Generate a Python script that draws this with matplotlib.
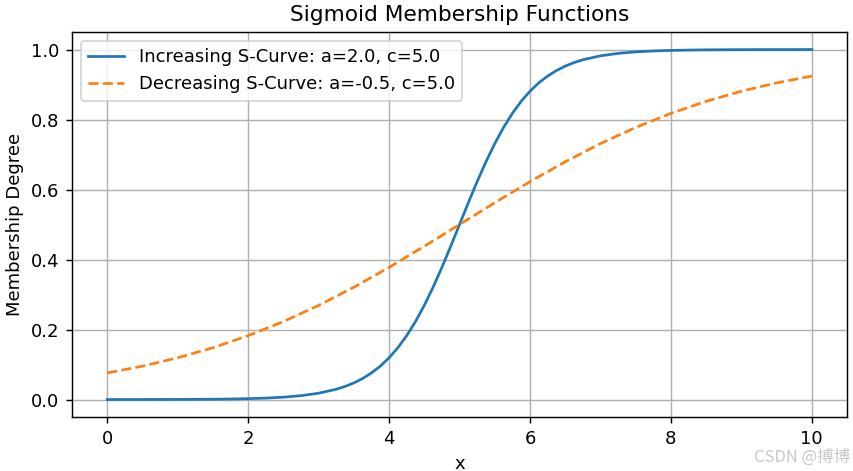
import matplotlib.pyplot as plt

# values
x_inc = [0, 0.25, 0.5, 0.75, 1, 1.25, 1.5, 1.75, 2, 2.25, 2.5, 2.75, 3, 3.25,
         3.375, 3.5, 3.625, 3.75, 3.875, 4, 4.125, 4.25, 4.375, 4.5, 4.625,
         4.75, 4.875, 5, 5.125, 5.25, 5.375, 5.5, 5.625, 5.75, 5.875, 6,
         6.125, 6.25, 6.375, 6.5, 6.625, 6.75, 7, 7.25, 7.5, 7.75, 8, 8.25,
         8.5, 8.75, 9, 9.25, 9.5, 9.75, 10]
y_inc = [0.0000, 0.0001, 0.0001, 0.0002, 0.0003, 0.0006, 0.0009, 0.0015,
         0.0025, 0.0041, 0.0067, 0.0110, 0.0180, 0.0293, 0.0373, 0.0474,
         0.0601, 0.0759, 0.0953, 0.1192, 0.1480, 0.1824, 0.2227, 0.2689,
         0.3208, 0.3775, 0.4378, 0.5000, 0.5622, 0.6225, 0.6792, 0.7311,
         0.7773, 0.8176, 0.8520, 0.8808, 0.9047, 0.9241, 0.9399, 0.9526,
         0.9627, 0.9707, 0.9820, 0.9890, 0.9933, 0.9959, 0.9975, 0.9985,
         0.9991, 0.9994, 0.9997, 0.9998, 0.9999, 0.9999, 1.0000]

x_dec = [0, 0.5, 1, 1.5, 2, 2.5, 3, 3.5, 4, 4.5, 5, 5.5, 6, 6.5, 7, 7.5, 8,
         8.5, 9, 9.5, 10]
y_dec = [0.0759, 0.0953, 0.1192, 0.1480, 0.1824, 0.2227, 0.2689, 0.3208,
         0.3775, 0.4378, 0.5000, 0.5622, 0.6225, 0.6792, 0.7311, 0.7773,
         0.8176, 0.8520, 0.8808, 0.9047, 0.9241]

DPI = 130
fig = plt.figure(figsize=(853 / DPI, 471 / DPI), dpi=DPI)
ax = fig.add_axes([0.0844, 0.1146, 0.9086, 0.8174])
ax.plot(x_inc, y_inc, label="Increasing S-Curve: a=2.0, c=5.0")
ax.plot(x_dec, y_dec, linestyle="--", label="Decreasing S-Curve: a=-0.5, c=5.0")
ax.set_title("Sigmoid Membership Functions")
ax.set_xlabel("x")
ax.set_ylabel("Membership Degree")
ax.grid(True)
ax.legend()

fig.text(0.997, 0.012, "CSDN @搏博", ha="right", va="bottom", fontsize=9.2,
         color="#c8c8c8", family=["Noto Sans CJK SC", "DejaVu Sans"])

fig.savefig("out.png", dpi=DPI)
